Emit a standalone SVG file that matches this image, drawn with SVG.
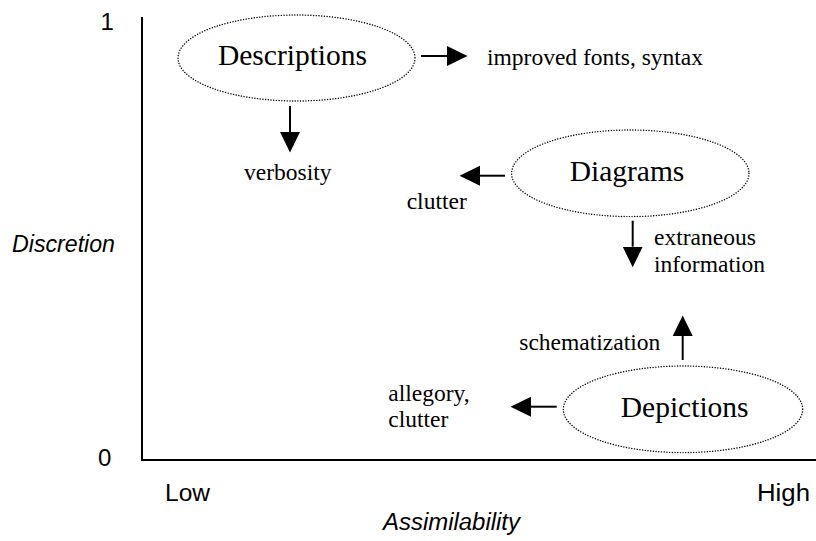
<svg xmlns="http://www.w3.org/2000/svg" width="816" height="541" viewBox="0 0 816 541">
  <defs>
    <marker id="head" markerUnits="userSpaceOnUse" markerWidth="21" markerHeight="21" refX="0" refY="10" orient="auto" viewBox="0 0 21 20">
      <path d="M0,0 L20.5,10 L0,20 z" fill="#000"/>
    </marker>
    <style>
      .axis { stroke:#000; stroke-width:2; fill:none; }
      .node { fill:none; stroke:#000; stroke-width:1.4; stroke-dasharray:0.1 2.6; stroke-linecap:round; }
      .conn { stroke:#000; stroke-width:2; fill:none; marker-end:url(#head); }
      .big { font-family:"Liberation Serif","Times New Roman",serif; font-size:29.5px; fill:#000; }
      .lbl { font-family:"Liberation Serif","Times New Roman",serif; font-size:23.5px; fill:#000; }
      .sans { font-family:"Liberation Sans",Arial,sans-serif; font-size:23px; fill:#000; }
      .num { font-size:24px; }
      .ital { font-style:italic; }
    </style>
  </defs>
  <rect width="816" height="541" fill="#fff"/>

  <g id="axes">
    <path class="axis" d="M142,17 V460 H816"/>
    <text class="sans num" x="100.5" y="30">1</text>
    <text class="sans num" x="98" y="466">0</text>
    <text class="sans ital" x="12" y="252" textLength="103" lengthAdjust="spacingAndGlyphs">Discretion</text>
    <text class="sans" x="165" y="501" textLength="45" lengthAdjust="spacingAndGlyphs">Low</text>
    <text class="sans" x="757" y="501" textLength="53" lengthAdjust="spacingAndGlyphs">High</text>
    <text class="sans ital" x="383" y="530" textLength="137" lengthAdjust="spacingAndGlyphs">Assimilability</text>
  </g>

  <g id="descriptions">
    <ellipse class="node" cx="296.5" cy="58" rx="118.5" ry="43"/>
    <text class="big" x="292.5" y="65" text-anchor="middle">Descriptions</text>
  </g>

  <g id="diagrams">
    <ellipse class="node" cx="630.3" cy="173.3" rx="118.7" ry="43.3"/>
    <text class="big" x="627" y="181" text-anchor="middle">Diagrams</text>
  </g>

  <g id="depictions">
    <ellipse class="node" cx="683" cy="409.3" rx="119.7" ry="43.3"/>
    <text class="big" x="684.7" y="416.7" text-anchor="middle">Depictions</text>
  </g>

  <g id="labels">
    <text class="lbl" x="487" y="65">improved fonts, syntax</text>
    <text class="lbl" x="244" y="180">verbosity</text>
    <text class="lbl" x="406.7" y="209">clutter</text>
    <text class="lbl" x="654" y="245">extraneous</text>
    <text class="lbl" x="654" y="271.7">information</text>
    <text class="lbl" x="519.3" y="350">schematization</text>
    <text class="lbl" x="388.3" y="400.7">allegory,</text>
    <text class="lbl" x="388.3" y="426.7">clutter</text>
  </g>

  <g id="connectors">
    <line class="conn" x1="421" y1="56" x2="447" y2="56"/>
    <line class="conn" x1="290" y1="106" x2="290" y2="132"/>
    <line class="conn" x1="505" y1="175.7" x2="480" y2="175.7"/>
    <line class="conn" x1="632.7" y1="220.7" x2="632.7" y2="246.7"/>
    <line class="conn" x1="682.7" y1="360" x2="682.7" y2="336"/>
    <line class="conn" x1="556.7" y1="406.7" x2="531" y2="406.7"/>
  </g>
</svg>
